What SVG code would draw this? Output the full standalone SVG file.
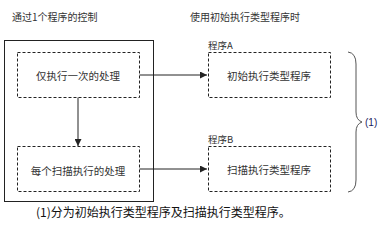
<svg xmlns="http://www.w3.org/2000/svg" width="386" height="234" viewBox="0 0 386 234">
<style>
text{font-family:"Noto Sans CJK SC","Noto Sans",sans-serif;fill:#333;}
.t{font-size:10px;}
.n{font-size:10.5px;text-anchor:middle;dominant-baseline:central;}
.l{font-size:9.5px;}
.d{fill:#fff;stroke:#222;stroke-width:1;stroke-dasharray:3,2;}
.c{fill:none;stroke:#222;stroke-width:1;}
</style>
<defs>
<marker id="ah" viewBox="0 0 10 10" refX="10" refY="5" markerWidth="7" markerHeight="7" markerUnits="userSpaceOnUse" orient="auto">
<path d="M0,0L10,5L0,10z" fill="#222"/>
</marker>
</defs>
<rect width="386" height="234" fill="#fff"/>
<text class="t" x="12" y="21">通过1个程序的控制</text>
<text class="t" x="190" y="21">使用初始执行类型程序时</text>
<g id="outer"><rect x="4.5" y="40.5" width="149" height="161" fill="none" stroke="#222"/></g>
<g id="connectors">
<line class="c" x1="78" y1="97" x2="78" y2="146" marker-end="url(#ah)"/>
<line class="c" x1="139" y1="75" x2="207" y2="75" marker-end="url(#ah)"/>
<line class="c" x1="139" y1="169" x2="207" y2="169" marker-end="url(#ah)"/>
</g>
<g id="once"><rect class="d" x="17.5" y="52.5" width="122" height="45"/><text class="n" x="78" y="75">仅执行一次的处理</text></g>
<g id="scan"><rect class="d" x="17.5" y="146.5" width="122" height="45"/><text class="n" x="78" y="170">每个扫描执行的处理</text></g>
<g id="progA"><text class="l" x="208" y="49">程序A</text><rect class="d" x="208.5" y="52.5" width="122" height="45"/><text class="n" x="269" y="75">初始执行类型程序</text></g>
<g id="progB"><text class="l" x="208" y="143">程序B</text><rect class="d" x="208.5" y="146.5" width="122" height="45"/><text class="n" x="269" y="169">扫描执行类型程序</text></g>
<g id="brace">
<path d="M348,52 Q356,53 356,64 L356,112 Q356,120 362,122 Q356,124 356,132 L356,180 Q356,191 348,192" fill="none" stroke="#555" stroke-width="1"/>
<text x="365" y="126" style="font-family:'Liberation Sans',sans-serif;font-size:10px;fill:#1a1a5e;">(1)</text>
</g>
<text x="36" y="217" style="font-size:12px;fill:#111;">(1)分为初始执行类型程序及扫描执行类型程序。</text>
</svg>
